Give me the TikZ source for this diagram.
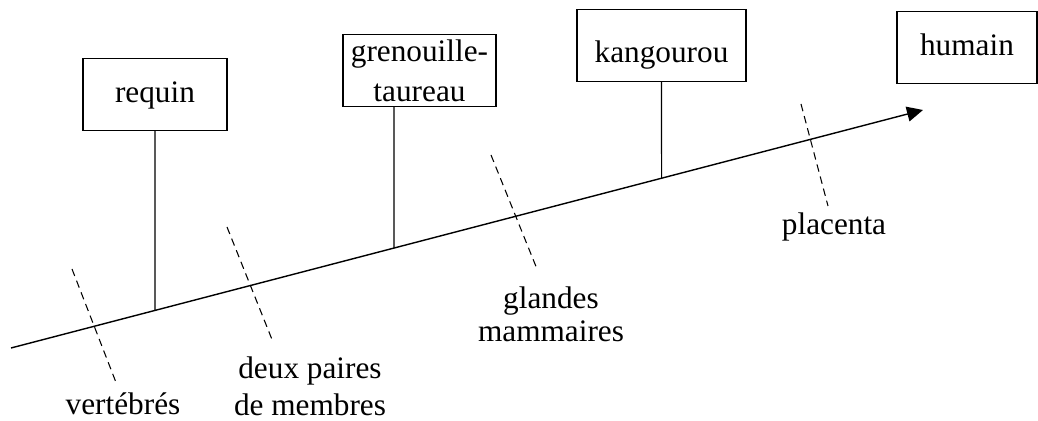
\documentclass[tikz,border=0pt]{standalone}
\usepackage{fontspec}
\setmainfont{Liberation Serif}
\usetikzlibrary{arrows.meta,positioning}

\begin{document}
\begin{tikzpicture}[
  x=0.02cm, y=-0.02cm,
  every node/.style={font=\fontsize{17.8}{21}\selectfont},
  box/.style={draw, line width=0.6pt, minimum height=1.44cm, inner sep=0pt, align=center,
    text height=0.45cm, text depth=0.11cm},
  trait/.style={line width=0.6pt, dash pattern=on 0.15cm off 0.1cm},
  lbl/.style={align=center, inner sep=0pt},
]
  \useasboundingbox (0,0) rectangle (1038,421);

  % Axis
  \coordinate (start) at (11,348);
  \coordinate (tip) at (923,110);
  \draw[line width=0.8pt, -{Triangle[length=0.32cm, width=0.3cm]}] (start) -- (tip);

  % Species boxes
  \node[box, minimum width=2.88cm] (requin) at (155,94.5) {requin};
  \node[box, minimum width=3.06cm, text height=, text depth=] (grenouille) at (419.5,70.5)
    {grenouille-\\[1.7pt]taureau};
  \node[box, minimum width=3.38cm, text height=0.75cm, text depth=0.05cm] (kangourou) at (661.5,45.5) {kangourou};
  \node[box, minimum width=2.8cm] (humain) at (967,47.5) {humain};

  % Stems down to the axis
  \coordinate (gstem) at ([xshift=-0.51cm]grenouille.south);
  \foreach \n in {requin.south, gstem, kangourou.south} {
    \coordinate (low) at (\n |- start);
    \draw[line width=0.6pt] (\n) -- (intersection of \n--low and start--tip);
  }

  % Dashed markers
  \coordinate (vert1) at (72,269);  \coordinate (vert2) at (117,385);
  \coordinate (memb1) at (227,227); \coordinate (memb2) at (273,342);
  \coordinate (mamm1) at (491,155); \coordinate (mamm2) at (537,269);
  \coordinate (plac1) at (801,104); \coordinate (plac2) at (828,206);
  \draw[trait] (vert1) -- (vert2);
  \draw[trait] (memb1) -- (memb2);
  \draw[trait] (mamm1) -- (mamm2);
  \draw[trait] (plac1) -- (plac2);

  % Labels
  \node[lbl, anchor=base] (vertebres) at (123,415) {vertébrés};
  \node[lbl] (membres) at (310,386) {deux paires\\de membres};
  \node[lbl] (mammaires) at (551,314) {glandes\\[-2.3pt]mammaires};
  \node[lbl, anchor=base] (placenta) at (834,235) {placenta};
\end{tikzpicture}
\end{document}
